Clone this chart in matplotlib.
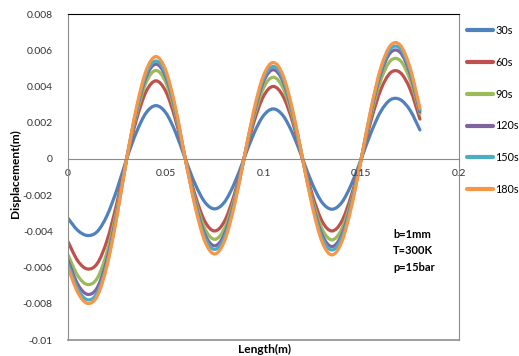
import numpy as np
import matplotlib
matplotlib.use("Agg")
import matplotlib.pyplot as plt
from matplotlib.path import Path
from matplotlib.patches import PathPatch
from matplotlib.lines import Line2D

plt.rcParams["font.family"] = ["Lato", "DejaVu Sans"]

# Length (m), sampled every 0.005 m
length = [0.000, 0.005, 0.010, 0.015, 0.020, 0.025, 0.030, 0.035, 0.040, 0.045,
          0.050, 0.055, 0.060, 0.065, 0.070, 0.075, 0.080, 0.085, 0.090, 0.095,
          0.100, 0.105, 0.110, 0.115, 0.120, 0.125, 0.130, 0.135, 0.140, 0.145,
          0.150, 0.155, 0.160, 0.165, 0.170, 0.175, 0.180]

# Displacement (m)
d30 = [-0.00328, -0.00395, -0.00423, -0.00401, -0.00312, -0.00170, 0.0,
       0.00147, 0.00255, 0.00294, 0.00255, 0.00147, 0.0,
       -0.00138, -0.00239, -0.00276, -0.00239, -0.00138, 0.0,
       0.00138, 0.00239, 0.00276, 0.00239, 0.00138, 0.0,
       -0.00139, -0.00241, -0.00278, -0.00241, -0.00139, 0.0,
       0.00145, 0.00262, 0.00327, 0.00327, 0.00268, 0.00160]
d60 = [-0.00457, -0.00563, -0.00608, -0.00577, -0.00449, -0.00244, 0.0,
       0.00216, 0.00373, 0.00431, 0.00373, 0.00216, 0.0,
       -0.00199, -0.00345, -0.00398, -0.00345, -0.00199, 0.0,
       0.00200, 0.00346, 0.00400, 0.00346, 0.00200, 0.0,
       -0.00199, -0.00345, -0.00398, -0.00345, -0.00199, 0.0,
       0.00212, 0.00382, 0.00476, 0.00476, 0.00385, 0.00220]
d90 = [-0.00530, -0.00645, -0.00694, -0.00658, -0.00512, -0.00278, 0.0,
       0.00244, 0.00423, 0.00488, 0.00423, 0.00244, 0.0,
       -0.00222, -0.00385, -0.00444, -0.00385, -0.00222, 0.0,
       0.00226, 0.00391, 0.00451, 0.00391, 0.00226, 0.0,
       -0.00224, -0.00387, -0.00447, -0.00387, -0.00224, 0.0,
       0.00241, 0.00435, 0.00542, 0.00542, 0.00436, 0.00250]
d120 = [-0.00560, -0.00692, -0.00748, -0.00710, -0.00552, -0.00300, 0.0,
        0.00262, 0.00453, 0.00523, 0.00453, 0.00262, 0.0,
        -0.00240, -0.00416, -0.00480, -0.00416, -0.00240, 0.0,
        0.00246, 0.00426, 0.00492, 0.00426, 0.00246, 0.0,
        -0.00242, -0.00419, -0.00484, -0.00419, -0.00242, 0.0,
        0.00261, 0.00471, 0.00587, 0.00587, 0.00470, 0.00260]
d150 = [-0.00580, -0.00718, -0.00778, -0.00738, -0.00574, -0.00312, 0.0,
        0.00270, 0.00468, 0.00540, 0.00468, 0.00270, 0.0,
        -0.00250, -0.00433, -0.00500, -0.00433, -0.00250, 0.0,
        0.00255, 0.00442, 0.00510, 0.00442, 0.00255, 0.0,
        -0.00252, -0.00436, -0.00503, -0.00436, -0.00252, 0.0,
        0.00271, 0.00488, 0.00608, 0.00608, 0.00487, 0.00270]
d180 = [-0.00600, -0.00738, -0.00798, -0.00757, -0.00589, -0.00320, 0.0,
        0.00283, 0.00489, 0.00565, 0.00489, 0.00283, 0.0,
        -0.00263, -0.00455, -0.00525, -0.00455, -0.00263, 0.0,
        0.00266, 0.00461, 0.00532, 0.00461, 0.00266, 0.0,
        -0.00265, -0.00459, -0.00530, -0.00459, -0.00265, 0.0,
        0.00279, 0.00503, 0.00627, 0.00627, 0.00503, 0.00280]

labels = ["30s", "60s", "90s", "120s", "150s", "180s"]
colors = ["#4F81BD", "#C0504D", "#9BBB59", "#8064A2", "#4BACC6", "#F79646"]
series = [d30, d60, d90, d120, d150, d180]


def smooth_path(xs, ys):
    # Catmull-Rom style bezier, like a spreadsheet "smoothed line"
    pts = np.column_stack([xs, ys])
    n = len(pts)
    verts = [pts[0]]
    codes = [Path.MOVETO]
    for i in range(n - 1):
        p0 = pts[i - 1] if i > 0 else pts[i]
        p1 = pts[i]
        p2 = pts[i + 1]
        p3 = pts[i + 2] if i + 2 < n else pts[i + 1]
        verts += [p1 + (p2 - p0) / 6, p2 - (p3 - p1) / 6, p2]
        codes += [Path.CURVE4] * 3
    return Path(verts, codes)


fig = plt.figure(figsize=(5.19, 3.56), dpi=100)
ax = fig.add_axes([68 / 519, 16 / 356, 391 / 519, 326 / 356])

handles = []
for ys, lab, c in zip(series, labels, colors):
    ax.add_patch(PathPatch(smooth_path(length, ys), fill=False, edgecolor=c,
                           lw=2.3, capstyle="round", joinstyle="round"))
    handles.append(Line2D([], [], color=c, lw=3.0, solid_capstyle="round"))

ax.set_xlim(0, 0.2)
ax.set_ylim(-0.01, 0.008)
ax.set_xticks([0, 0.05, 0.1, 0.15, 0.2])
ax.set_xticklabels(["0", "0.05", "0.1", "0.15", "0.2"])
ax.set_yticks(np.arange(-0.01, 0.0081, 0.002))
ax.set_yticklabels(["-0.01", "-0.008", "-0.006", "-0.004", "-0.002", "0",
                    "0.002", "0.004", "0.006", "0.008"])
ax.tick_params(length=0, labelsize=7.5, colors="#333333")
ax.tick_params(axis="x", pad=7)
ax.tick_params(axis="y", pad=11)

ax.spines["bottom"].set_position(("data", 0))
ax.spines["bottom"].set_color("#8c8c8c")
ax.spines["left"].set_color("#8c8c8c")
ax.spines["right"].set_color("#8c8c8c")
ax.spines["top"].set_color("black")
ax.axhline(-0.01, color="#8c8c8c", lw=1.2, clip_on=False)

fig.text(265 / 519, 1 - 349 / 356, "Length(m)", ha="center", va="center",
         fontsize=8.6, fontweight="bold")
fig.text(15 / 519, 1 - 174 / 356, "Displacement(m)", ha="center", va="center",
         rotation=90, fontsize=8.6, fontweight="bold")

ax.text(0.1662, -0.00508, "b=1mm\nT=300K\np=15bar", ha="left", va="center",
        fontsize=8, fontweight="bold", linespacing=1.6)

fig.legend(handles, labels, loc="upper left",
           bbox_to_anchor=(467 / 519, 1 - 25 / 356), frameon=False,
           fontsize=7.8, handlelength=2.4, handletextpad=0.2,
           labelspacing=1.92, borderpad=0, borderaxespad=0)

fig.savefig("out.png", dpi=100)
